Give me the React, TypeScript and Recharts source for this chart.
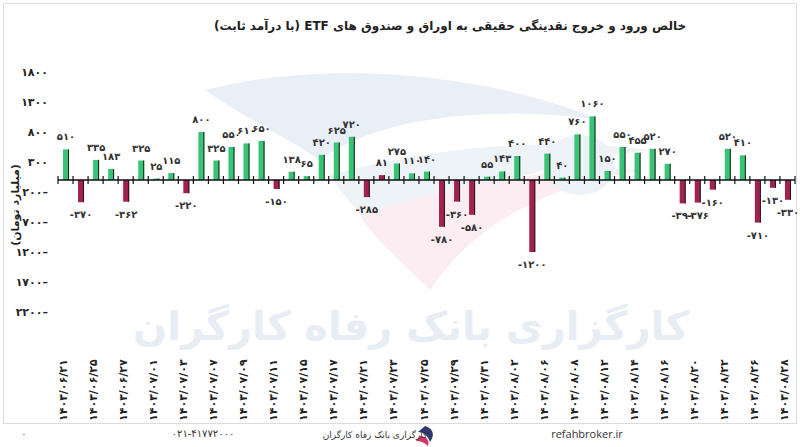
import { BarChart, Bar, XAxis, YAxis, ReferenceLine, LabelList, Cell } from "recharts";

// trading days (only every other one is labelled on the axis)
const dates = [
  "1403/06/21", "1403/06/24", "1403/06/25", "1403/06/26", "1403/06/27", "1403/06/28",
  "1403/07/01", "1403/07/02", "1403/07/03", "1403/07/04", "1403/07/07", "1403/07/08",
  "1403/07/09", "1403/07/10", "1403/07/11", "1403/07/14", "1403/07/15", "1403/07/16",
  "1403/07/17", "1403/07/18", "1403/07/21", "1403/07/22", "1403/07/23", "1403/07/24",
  "1403/07/25", "1403/07/28", "1403/07/29", "1403/07/30", "1403/07/31", "1403/08/01",
  "1403/08/02", "1403/08/05", "1403/08/06", "1403/08/07", "1403/08/08", "1403/08/09",
  "1403/08/12", "1403/08/13", "1403/08/14", "1403/08/15", "1403/08/16", "1403/08/19",
  "1403/08/20", "1403/08/21", "1403/08/22", "1403/08/23", "1403/08/26", "1403/08/27",
  "1403/08/28",
];

// net flow, billion toman
const flows = [
  510, -370, 335, 183, -362, 325, 25, 115, -220, 800,
  325, 550, 610, 650, -150, 138, 65, 420, 625, 720,
  -285, 81, 275, 110, 140, -780, -360, -580, 55, 143,
  400, -1200, 440, 40, 760, 1060, 150, 550, 455, 520,
  270, -390, -376, -160, 520, 410, -710, -130, -330,
];

const yTicks = [-2200, -1700, -1200, -700, -200, 300, 800, 1300, 1800];

// the small 81 bar is drawn in the outflow colour in the source
const maroonDays = ["1403/07/22"];

const GREEN = "#38c474";
const MAROON = "#a3214f";
const FONT = "'DejaVu Sans', sans-serif";

const FA_DIGITS = "۰۱۲۳۴۵۶۷۸۹";
const toFa = (s: string | number) => String(s).replace(/[0-9]/g, (d) => FA_DIGITS[Number(d)]);

const data = dates.map((d, i) => ({ date: d, value: flows[i] }));

const BarShape = (props: any) => {
  const { x, y, width, height, fill } = props;
  const top = Math.min(y, y + height);
  const h = Math.abs(height);
  return (
    <g>
      <rect x={x} y={top} width={width} height={h} fill={fill} />
      <line x1={x + width - 0.5} x2={x + width - 0.5} y1={top} y2={top + h} stroke="#1c1c1c" strokeWidth={1} />
    </g>
  );
};

const ValueLabel = (props: any) => {
  const { x, y, width, height, value } = props;
  const top = Math.min(y, y + height);
  const bottom = Math.max(y, y + height);
  const cx = x + width / 2;
  const ty = value < 0 ? bottom + 16 : top - 9;
  return (
    <text x={cx} y={ty} textAnchor="middle" fontSize={10} fontWeight="bold" fontFamily={FONT} fill="#333">
      {value < 0 ? "-" + toFa(-value) : toFa(value)}
    </text>
  );
};

const DateTick = (props: any) => {
  const { x, y, payload, index } = props;
  if (index % 2 !== 0) return null;
  return (
    <text
      transform={`translate(${x + 1},${y + 107}) rotate(-90)`}
      textAnchor="start"
      fontSize={11}
      fontWeight="bold"
      fontFamily={FONT}
      fill="#222"
    >
      {toFa(payload.value)}
    </text>
  );
};

const ZeroAxis = (props: any) => {
  const { x1, y1, x2 } = props;
  const n = dates.length;
  const step = (x2 - x1) / n;
  return (
    <g>
      <line x1={x1} x2={x2} y1={y1} y2={y1} stroke="#111" strokeWidth={1.6} />
      {Array.from({ length: n + 1 }, (_, i) => (
        <line key={i} x1={x1 + i * step} x2={x1 + i * step} y1={y1 - 4} y2={y1 + 4} stroke="#111" strokeWidth={1.2} />
      ))}
    </g>
  );
};

export default function App() {
  return (
    <div style={{ position: "absolute", left: 0, top: 0, width: 800, height: 447, background: "#fff", overflow: "hidden", fontFamily: FONT }}>
      {/* frame + watermark */}
      <svg width={800} height={447} style={{ position: "absolute", left: 0, top: 0 }}>
        <rect x={3.5} y={3.5} width={793} height={420} fill="none" stroke="#dcdcdc" strokeWidth={1} />
        <path d="M205 90 C 320 60, 480 70, 600 120 C 500 105, 380 115, 320 160 C 290 140, 240 115, 205 90 Z" fill="#e9eff6" />
        <path d="M330 175 C 420 150, 540 135, 650 150 C 560 160, 460 185, 400 250 C 370 225, 345 200, 330 175 Z" fill="#eef3f8" />
        <path d="M360 215 C 450 185, 560 165, 640 170 C 560 185, 480 215, 430 290 C 400 260, 375 240, 360 215 Z" fill="#fbedf1" />
        <ellipse cx={580} cy={165} rx={35} ry={30} fill="#edf2f8" />
        <text x={411} y={340} textAnchor="middle" fontSize={40} fontWeight="bold" fill="#e7edf4" fontFamily={FONT} direction="rtl">
          کارگزاری بانک رفاه کارگران
        </text>
      </svg>

      <div style={{ position: "absolute", left: 0, top: 0 }}>
        <BarChart width={800} height={447} data={data} margin={{ top: 72, right: 5, left: 0, bottom: 25 }}>
          <XAxis
            dataKey="date"
            interval={0}
            height={110}
            axisLine={false}
            tickLine={false}
            tickSize={0}
            tick={<DateTick />}
          />
          <YAxis
            domain={[-2200, 1800]}
            ticks={yTicks}
            interval={0}
            width={58}
            axisLine={false}
            tickLine={false}
            tickSize={0}
            tickMargin={10}
            tick={{ fill: "#222", fontSize: 11, fontWeight: "bold", fontFamily: FONT }}
            tickFormatter={(v: number) => (v < 0 ? toFa(-v) + "–" : toFa(v))}
          />
          <Bar dataKey="value" barSize={6} isAnimationActive={false} shape={<BarShape />}>
            {data.map((d) => (
              <Cell key={d.date} fill={d.value < 0 || maroonDays.includes(d.date) ? MAROON : GREEN} />
            ))}
            <LabelList dataKey="value" content={<ValueLabel />} />
          </Bar>
          <ReferenceLine y={0} shape={<ZeroAxis />} />
        </BarChart>
      </div>

      {/* text layer */}
      <div dir="rtl" style={{ position: "absolute", left: 200, width: 500, top: 19, textAlign: "center", fontSize: 12, fontWeight: "bold", color: "#222", whiteSpace: "nowrap" }}>
        خالص ورود و خروج نقدینگی حقیقی به اوراق و صندوق های ETF (با درآمد ثابت)
      </div>
      <svg width={800} height={447} style={{ position: "absolute", left: 0, top: 0, pointerEvents: "none" }}>
        <text transform="translate(19,205) rotate(-90)" textAnchor="middle" fontSize={11} fontWeight="bold" fill="#222" fontFamily={FONT} direction="rtl">
          (میلیارد تومان)
        </text>
        <text x={24} y={437} fontSize={9} fill="#444" textAnchor="middle" fontFamily={FONT}>{toFa(0)}</text>
        <text x={203} y={437} fontSize={10} fill="#333" textAnchor="middle" fontFamily={FONT}>{toFa("021-41772000")}</text>
        <path d="M425 426 C 432 428, 436 434, 430 442 C 428 436, 424 432, 418 432 Z" fill="#2d3a6b" />
        <path d="M420 436 C 426 436, 430 440, 428 446 C 424 442, 420 441, 416 441 Z" fill="#d6336c" />
        <text x={375} y={438} fontSize={9} fill="#333" textAnchor="middle" fontFamily={FONT} direction="rtl">کارگزاری بانک رفاه کارگران</text>
        <text x={587} y={438} fontSize={11} fill="#333" textAnchor="middle" fontFamily="'Open Sans', sans-serif">refahbroker.ir</text>
      </svg>
    </div>
  );
}
